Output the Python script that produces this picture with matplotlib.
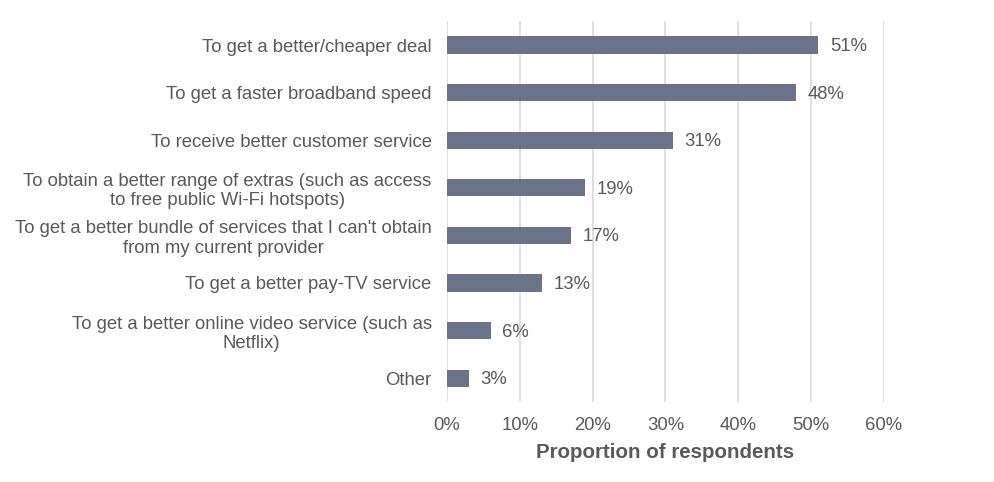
import matplotlib
matplotlib.use("Agg")
import matplotlib.pyplot as plt
from matplotlib.ticker import FuncFormatter

plt.rcParams["font.family"] = ["Liberation Sans", "DejaVu Sans"]

reasons = [
    "To get a better/cheaper deal",
    "To get a faster broadband speed",
    "To receive better customer service",
    "To obtain a better range of extras (such as access\nto free public Wi-Fi hotspots)",
    "To get a better bundle of services that I can't obtain\nfrom my current provider",
    "To get a better pay-TV service",
    "To get a better online video service (such as\nNetflix)",
    "Other",
]
share = [51, 48, 31, 19, 17, 13, 6, 3]
xticks = [0, 10, 20, 30, 40, 50, 60]

text_col = "#595959"
bar_col = "#6b7389"
fs = 13.3

fig = plt.figure(figsize=(9.94, 4.82), dpi=100)
ax = fig.add_axes([0.4497, 0.166, 0.4393, 0.790])

ypos = list(range(len(reasons)))
ax.barh(ypos, share, height=0.36, color=bar_col, zorder=3)
for y, v in zip(ypos, share):
    ax.text(v + 1.6, y + 0.03, f"{v}%", va="center", ha="left",
            fontsize=fs, color=text_col, zorder=4)

ax.set_yticks(ypos)
ax.set_yticklabels(reasons, fontsize=fs, color=text_col, ha="right",
                   multialignment="center", linespacing=1.2)
ax.set_ylim(len(reasons) - 0.5, -0.5)

ax.set_xlim(0, 60)
ax.set_xticks(xticks)
ax.xaxis.set_major_formatter(FuncFormatter(lambda v, _: f"{v:.0f}%"))
ax.tick_params(axis="x", labelsize=fs, labelcolor=text_col, length=0, pad=11)
ax.tick_params(axis="y", length=0, pad=11)
ax.grid(axis="x", color="#d9d9d9", linewidth=1.2, zorder=0)
for side in ["top", "right", "bottom", "left"]:
    ax.spines[side].set_visible(False)

ax.set_xlabel("Proportion of respondents", fontsize=14.8, fontweight="bold",
              color=text_col, labelpad=6)

fig.savefig("out.png", dpi=100)
